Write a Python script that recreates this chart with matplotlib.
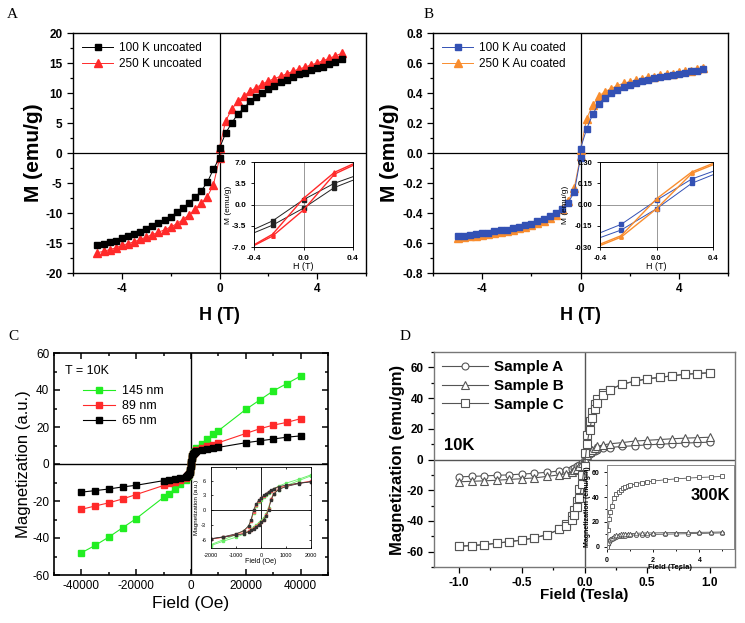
import matplotlib
matplotlib.use("Agg")
import matplotlib.pyplot as plt
from matplotlib.ticker import MultipleLocator

plt.rcParams['font.family'] = ['Liberation Sans', 'DejaVu Sans']
plt.rcParams['axes.unicode_minus'] = False

# ---------------- Panel A data ----------------
H_A = [-5.0, -4.75, -4.5, -4.25, -4.0, -3.75, -3.5, -3.25, -3.0, -2.75, -2.5, -2.25, -2.0, -1.75,
       -1.5, -1.25, -1.0, -0.75, -0.5, -0.25, 0.0, 0.0, 0.25, 0.5, 0.75, 1.0, 1.25, 1.5, 1.75,
       2.0, 2.25, 2.5, 2.75, 3.0, 3.25, 3.5, 3.75, 4.0, 4.25, 4.5, 4.75, 5.0]
M_A_100K = [-15.3, -15.1, -14.9, -14.6, -14.2, -13.9, -13.5, -13.1, -12.7, -12.2, -11.7, -11.2,
            -10.6, -9.9, -9.2, -8.3, -7.4, -6.3, -4.9, -2.7, -0.8, 0.8, 3.3, 5.0, 6.5, 7.5, 8.6,
            9.3, 10.0, 10.6, 11.2, 11.8, 12.2, 12.7, 13.1, 13.4, 13.8, 14.1, 14.4, 14.8, 15.1, 15.6]
M_A_250K = [-16.6, -16.4, -16.1, -15.8, -15.4, -15.1, -14.8, -14.4, -14.0, -13.6, -13.2, -12.8,
            -12.3, -11.8, -11.1, -10.3, -9.4, -8.4, -7.3, -5.3, -0.9, 0.9, 5.3, 7.3, 8.6, 9.5,
            10.3, 10.9, 11.5, 12.0, 12.4, 12.8, 13.2, 13.6, 14.0, 14.3, 14.7, 15.0, 15.4, 15.8,
            16.2, 16.6]
# inset A (loop branches)
H_Ai_desc = [0.5, 0.25, 0.0, -0.25, -0.5]
H_Ai_asc = [-0.5, -0.25, 0.0, 0.25, 0.5]
M_Ai_100K_desc = [5.3, 3.5, 0.8, -2.7, -5.0]
M_Ai_100K_asc = [-5.5, -3.4, -0.6, 2.8, 4.8]
M_Ai_250K_desc = [7.6, 5.3, 1.0, -4.9, -7.8]
M_Ai_250K_asc = [-7.8, -5.2, -0.9, 5.0, 7.4]

# ---------------- Panel B data ----------------
H_B = H_A
M_B_100K = [-0.555, -0.55, -0.545, -0.54, -0.535, -0.53, -0.52, -0.515, -0.51, -0.50, -0.49,
            -0.48, -0.47, -0.455, -0.44, -0.42, -0.40, -0.37, -0.33, -0.26, -0.03, 0.03, 0.16,
            0.26, 0.33, 0.37, 0.40, 0.42, 0.44, 0.455, 0.47, 0.48, 0.49, 0.50, 0.51, 0.515,
            0.52, 0.53, 0.535, 0.545, 0.55, 0.56]
M_B_250K = [-0.565, -0.56, -0.555, -0.55, -0.545, -0.54, -0.53, -0.525, -0.52, -0.51, -0.50,
            -0.49, -0.48, -0.465, -0.45, -0.43, -0.41, -0.37, -0.32, -0.23, -0.02, 0.02, 0.23,
            0.32, 0.38, 0.41, 0.43, 0.45, 0.465, 0.475, 0.485, 0.495, 0.505, 0.51, 0.52, 0.525,
            0.53, 0.54, 0.545, 0.55, 0.56, 0.57]
M_Bi_100K_desc = [0.27, 0.18, 0.03, -0.14, -0.24]
M_Bi_100K_asc = [-0.27, -0.18, -0.03, 0.15, 0.25]
M_Bi_250K_desc = [0.33, 0.23, 0.04, -0.22, -0.32]
M_Bi_250K_asc = [-0.33, -0.23, -0.03, 0.22, 0.32]

# ---------------- Panel C data ----------------
H_C = [-40000, -35000, -30000, -25000, -20000, -10000, -8000, -6000, -4000, -2000, -1500,
       -1000, -700, -500, -300, -100, 0, 100, 300, 500, 700, 1000, 1500, 2000, 4000, 6000,
       8000, 10000, 20000, 25000, 30000, 35000, 40000]
M_C_145 = [-48.0, -44.0, -39.5, -34.5, -29.5, -18.0, -16.0, -13.5, -11.0, -8.5, -7.2, -6.3,
           -5.5, -4.5, -3.0, -1.0, 0.0, 1.0, 3.0, 4.5, 5.5, 6.3, 7.2, 8.5, 11.0, 13.5, 16.0,
           18.0, 29.5, 34.5, 39.5, 43.5, 47.5]
M_C_89 = [-24.5, -22.7, -21.0, -18.9, -16.5, -11.6, -10.5, -9.5, -8.5, -7.5, -6.6, -6.0,
          -5.3, -4.4, -3.0, -1.0, 0.0, 1.0, 3.0, 4.4, 5.3, 6.0, 6.6, 7.5, 8.5, 9.5, 10.5,
          11.5, 16.5, 19.0, 21.0, 22.5, 24.5]
M_C_65 = [-15.2, -14.4, -13.5, -12.4, -11.5, -9.0, -8.5, -8.0, -7.5, -6.8, -6.3, -5.8,
          -5.2, -4.3, -3.0, -1.0, 0.0, 1.0, 3.0, 4.3, 5.2, 5.8, 6.3, 6.8, 7.5, 8.0, 8.5,
          9.0, 11.5, 12.5, 13.5, 14.5, 15.2]
# inset C
H_Ci = [-2000, -1500, -1000, -700, -500, -400, -300, -200, -100, 0, 100, 200, 300, 400, 500,
        700, 1000, 1500, 2000]
M_Ci_65_up = [-5.8, -5.4, -4.8, -4.2, -3.2, -2.0, 0.0, 1.2, 2.0, 2.5, 3.0, 3.4, 3.8, 4.1, 4.4,
              4.8, 5.1, 5.5, 5.8]
M_Ci_65_dn = [-5.8, -5.5, -5.1, -4.8, -4.4, -4.1, -3.8, -3.4, -3.0, -2.5, -2.0, -1.2, 0.0, 2.0,
              3.2, 4.2, 4.8, 5.4, 5.8]
M_Ci_89_up = [-5.9, -5.5, -4.9, -4.3, -3.4, -2.2, -0.3, 1.0, 1.9, 2.4, 2.9, 3.3, 3.7, 4.0, 4.3,
              4.7, 5.0, 5.5, 5.9]
M_Ci_89_dn = [-5.9, -5.5, -5.0, -4.7, -4.3, -4.0, -3.7, -3.3, -2.9, -2.4, -1.9, -1.0, 0.3, 2.2,
              3.4, 4.3, 4.9, 5.5, 5.9]
M_Ci_145_up = [-7.0, -6.0, -5.0, -4.2, -3.3, -2.2, -0.5, 0.8, 1.6, 2.1, 2.6, 3.1, 3.5, 3.9, 4.3,
               4.9, 5.5, 6.3, 7.2]
M_Ci_145_dn = [-7.2, -6.3, -5.5, -4.9, -4.3, -3.9, -3.5, -3.1, -2.6, -2.1, -1.6, -0.8, 0.5, 2.2,
               3.3, 4.2, 5.0, 6.0, 7.0]

# ---------------- Panel D data ----------------
H_D = [-1.0, -0.9, -0.8, -0.7, -0.6, -0.5, -0.4, -0.3, -0.2, -0.15, -0.1, -0.08, -0.06, -0.04,
       -0.02, 0.0, 0.02, 0.04, 0.06, 0.08, 0.1, 0.15, 0.2, 0.3, 0.4, 0.5, 0.6, 0.7, 0.8, 0.9, 1.0]
M_D_C_desc = [-56.5, -56.0, -55.5, -54.5, -53.5, -52.5, -51.0, -49.0, -45.5, -42.0, -37.0, -33.0,
              -27.0, -19.0, -10.0, 4.0, 16.0, 25.0, 31.0, 36.0, 39.5, 43.0, 45.5, 49.0, 51.0,
              52.5, 53.5, 54.5, 55.5, 56.0, 56.5]
M_D_C_asc = [-56.5, -56.0, -55.5, -54.5, -53.5, -52.5, -51.0, -49.0, -45.5, -43.0, -39.5, -36.0,
             -31.0, -25.0, -16.0, -4.0, 10.0, 19.0, 27.0, 33.0, 37.0, 42.0, 45.5, 49.0, 51.0,
             52.5, 53.5, 54.5, 55.5, 56.0, 56.5]
M_D_B = [-14.5, -14.2, -13.9, -13.5, -13.0, -12.5, -12.0, -11.0, -10.0, -9.3, -8.0, -7.0, -6.0,
         -4.5, -2.5, 0.5, 3.0, 5.0, 6.5, 7.5, 8.5, 9.5, 10.2, 11.0, 12.0, 12.5, 13.0, 13.5,
         13.9, 14.2, 14.5]
M_D_A = [-11.3, -11.0, -10.7, -10.3, -10.0, -9.5, -9.0, -8.3, -7.5, -7.0, -6.0, -5.3, -4.5,
         -3.3, -2.0, 0.3, 2.3, 3.8, 5.0, 5.8, 6.5, 7.2, 7.8, 8.5, 9.0, 9.5, 10.0, 10.3, 10.7,
         11.0, 11.3]
# inset D (300 K)
H_Di = [0.0, 0.05, 0.1, 0.15, 0.2, 0.3, 0.4, 0.5, 0.6, 0.7, 0.8, 0.9, 1.0, 1.25, 1.5, 1.75,
        2.0, 2.5, 3.0, 3.5, 4.0, 4.5, 5.0]
M_Di_C = [0, 13, 22, 28, 33, 39, 42.5, 44.5, 46, 47, 48, 48.8, 49.5, 50.8, 51.7, 52.4, 53,
          54, 54.8, 55.4, 55.9, 56.3, 56.8]
M_Di_B = [0, 3, 5, 6.5, 7.3, 8.5, 9, 9.5, 9.8, 10, 10.2, 10.3, 10.4, 10.7, 10.9, 11, 11,
          11.2, 11.3, 11.4, 11.5, 11.6, 11.8]
M_Di_A = [0, 2.5, 4, 5.2, 6, 7.2, 7.8, 8.2, 8.5, 8.7, 8.9, 9, 9.1, 9.4, 9.6, 9.7, 9.8, 10,
          10.2, 10.4, 10.6, 10.8, 11]

W, Hh = 745, 623
fig = plt.figure(figsize=(W / 100, Hh / 100), dpi=100)


def rect(l, t, r, b):
    return [l / W, 1 - b / Hh, (r - l) / W, (b - t) / Hh]


def style(ax, size, bold, direction='out', length=4, top=False, right=False, lw=1.0):
    ax.tick_params(which='both', direction=direction, labelsize=size, width=lw * 0.9,
                   top=top, right=right)
    ax.tick_params(which='major', length=length)
    ax.tick_params(which='minor', length=length * 0.55)
    for s in ax.spines.values():
        s.set_linewidth(lw)
    if bold:
        for t in ax.get_xticklabels() + ax.get_yticklabels():
            t.set_fontweight('bold')


RED = '#ff2a2a'
BLUE = '#3351b4'
ORANGE = '#f98d2e'
GREEN = '#22ee22'
GRAY = '#555555'

# ================= Panel A =================
axA = fig.add_axes(rect(73, 33, 366, 273))
axA.axhline(0, color='k', lw=0.9, zorder=1)
axA.axvline(0, color='k', lw=0.9, zorder=1)
axA.plot(H_A, M_A_100K, '-s', color='k', ms=5, lw=0.7, label='100 K uncoated', zorder=3)
axA.plot(H_A, M_A_250K, '-^', color=RED, ms=5.5, lw=0.7, label='250 K uncoated', zorder=2)
axA.set_xlim(-6, 6)
axA.set_ylim(-20, 20)
axA.xaxis.set_major_locator(MultipleLocator(4))
axA.xaxis.set_minor_locator(MultipleLocator(2))
axA.yaxis.set_major_locator(MultipleLocator(5))
axA.yaxis.set_minor_locator(MultipleLocator(2.5))
style(axA, 8.5, True)
axA.set_xlabel('H (T)', fontsize=13, fontweight='bold', labelpad=8)
axA.set_ylabel('M (emu/g)', fontsize=15, fontweight='bold', labelpad=2)
axA.legend(loc='upper left', frameon=False, fontsize=8.5, handlelength=2.6,
           borderaxespad=0.4, handletextpad=0.5, labelspacing=0.3)

iA = fig.add_axes(rect(254, 162, 353, 247))
iA.axhline(0, color='#888888', lw=0.6)
iA.axvline(0, color='#888888', lw=0.6)
iA.plot(H_Ai_desc, M_Ai_100K_desc, '-s', color='#222222', ms=2.5, lw=0.7)
iA.plot(H_Ai_asc, M_Ai_100K_asc, '-s', color='#222222', ms=2.5, lw=0.7)
iA.plot(H_Ai_desc, M_Ai_250K_desc, '-^', color=RED, ms=2.5, lw=1.0)
iA.plot(H_Ai_asc, M_Ai_250K_asc, '-^', color=RED, ms=2.5, lw=1.0)
iA.set_xlim(-0.4, 0.4)
iA.set_ylim(-7, 7)
iA.set_xticks([-0.4, 0.0, 0.4])
iA.set_yticks([-7, -3.5, 0, 3.5, 7])
iA.set_xticklabels(['-0.4', '0.0', '0.4'])
iA.set_yticklabels(['-7.0', '-3.5', '0.0', '3.5', '7.0'])
style(iA, 6, True, length=2, lw=0.7)
iA.set_xlabel('H (T)', fontsize=6.5, labelpad=0)
iA.set_ylabel('M (emu/g)', fontsize=6, labelpad=0)
iA.yaxis.set_label_coords(-0.22, 0.5)

# ================= Panel B =================
axB = fig.add_axes(rect(433, 33, 728, 273))
axB.axhline(0, color='k', lw=0.9, zorder=1)
axB.axvline(0, color='k', lw=0.9, zorder=1)
axB.plot(H_B, M_B_100K, '-s', color=BLUE, ms=5, lw=0.7, label='100 K Au coated', zorder=3)
axB.plot(H_B, M_B_250K, '-^', color=ORANGE, ms=5.5, lw=0.7, label='250 K Au coated', zorder=2)
axB.set_xlim(-6, 6)
axB.set_ylim(-0.8, 0.8)
axB.xaxis.set_major_locator(MultipleLocator(4))
axB.xaxis.set_minor_locator(MultipleLocator(2))
axB.yaxis.set_minor_locator(MultipleLocator(0.1))
axB.set_yticks([-0.8, -0.6, -0.4, -0.2, 0.0, 0.2, 0.4, 0.6, 0.8])
axB.set_yticklabels(['-0.8', '-0.6', '-0.4', '-0.2', '0.0', '0.2', '0.4', '0.6', '0.8'])
style(axB, 8.5, True)
axB.set_xlabel('H (T)', fontsize=13, fontweight='bold', labelpad=8)
axB.set_ylabel('M (emu/g)', fontsize=15, fontweight='bold', labelpad=2)
axB.legend(loc='upper left', frameon=False, fontsize=8.5, handlelength=2.6,
           borderaxespad=0.4, handletextpad=0.5, labelspacing=0.3)

iB = fig.add_axes(rect(600, 162, 713, 247))
iB.axhline(0, color='#888888', lw=0.6)
iB.axvline(0, color='#888888', lw=0.6)
iB.plot(H_Ai_desc, M_Bi_100K_desc, '-s', color=BLUE, ms=2.5, lw=0.7)
iB.plot(H_Ai_asc, M_Bi_100K_asc, '-s', color=BLUE, ms=2.5, lw=0.7)
iB.plot(H_Ai_desc, M_Bi_250K_desc, '-^', color=ORANGE, ms=2.5, lw=1.0)
iB.plot(H_Ai_asc, M_Bi_250K_asc, '-^', color=ORANGE, ms=2.5, lw=1.0)
iB.set_xlim(-0.4, 0.4)
iB.set_ylim(-0.3, 0.3)
iB.set_xticks([-0.4, 0.0, 0.4])
iB.set_yticks([-0.3, -0.15, 0, 0.15, 0.3])
iB.set_xticklabels(['-0.4', '0.0', '0.4'])
iB.set_yticklabels(['-0.30', '-0.15', '0.00', '0.15', '0.30'])
style(iB, 5.5, True, length=2, lw=0.7)
iB.set_xlabel('H (T)', fontsize=6.5, labelpad=0)
iB.set_ylabel('M (emu/g)', fontsize=6, labelpad=0)
iB.yaxis.set_label_coords(-0.27, 0.5)

# ================= Panel C =================
axC = fig.add_axes(rect(54, 353, 328, 575))
axC.axhline(0, color='k', lw=1.0, zorder=1)
axC.axvline(0, color='k', lw=1.0, zorder=1)
axC.plot(H_C, M_C_145, '-s', color=GREEN, ms=4.5, lw=0.8, label='145 nm', zorder=2)
axC.plot(H_C, M_C_89, '-s', color=RED, ms=4.5, lw=0.8, label='89 nm', zorder=3)
axC.plot(H_C, M_C_65, '-s', color='k', ms=4.5, lw=0.8, label='65 nm', zorder=4)
axC.set_xlim(-50000, 50000)
axC.set_ylim(-60, 60)
axC.xaxis.set_major_locator(MultipleLocator(20000))
axC.xaxis.set_minor_locator(MultipleLocator(10000))
axC.yaxis.set_major_locator(MultipleLocator(20))
axC.yaxis.set_minor_locator(MultipleLocator(10))
style(axC, 8.5, False, direction='in', length=4, top=True, right=True, lw=1.2)
axC.set_xlabel('Field (Oe)', fontsize=12.5, labelpad=3)
axC.set_ylabel('Magnetization (a.u.)', fontsize=12, labelpad=1)
axC.text(0.04, 0.905, 'T = 10K', transform=axC.transAxes, fontsize=9)
axC.legend(loc='upper left', bbox_to_anchor=(0.08, 0.89), frameon=False, fontsize=9,
           handlelength=2.5, handletextpad=0.6, labelspacing=0.25, borderaxespad=0.2)

iC = fig.add_axes(rect(211, 467, 311, 548))
iC.axhline(0, color='k', lw=0.6)
iC.axvline(0, color='k', lw=0.6)
iC.plot(H_Ci, M_Ci_145_up, '-s', color='#66ee66', ms=1.6, lw=0.6)
iC.plot(H_Ci, M_Ci_145_dn, '-s', color='#66ee66', ms=1.6, lw=0.6)
iC.plot(H_Ci, M_Ci_89_up, '-s', color='#ff6060', ms=1.6, lw=0.6)
iC.plot(H_Ci, M_Ci_89_dn, '-s', color='#ff6060', ms=1.6, lw=0.6)
iC.plot(H_Ci, M_Ci_65_up, '-s', color='#333333', ms=1.6, lw=0.5)
iC.plot(H_Ci, M_Ci_65_dn, '-s', color='#333333', ms=1.6, lw=0.5)
iC.set_xlim(-2000, 2000)
iC.set_ylim(-7.7, 8.8)
iC.set_xticks([-2000, -1000, 0, 1000, 2000])
iC.set_yticks([-6, -3, 0, 3, 6])
style(iC, 4, False, direction='in', length=1.5, top=True, right=True, lw=0.6)
iC.set_xlabel('Field (Oe)', fontsize=5, labelpad=0)
iC.set_ylabel('Magnetization (a.u.)', fontsize=4.5, labelpad=0)
iC.yaxis.set_label_coords(-0.12, 0.5)

# ================= Panel D =================
axD = fig.add_axes(rect(434, 352, 735, 567))
axD.axhline(0, color=GRAY, lw=1.0, zorder=1)
axD.axvline(0, color=GRAY, lw=1.0, zorder=1)
mk = dict(mfc='white', mec=GRAY, color=GRAY, lw=0.8, mew=0.8)
axD.plot(H_D, M_D_A, '-o', ms=5, label='Sample A', zorder=3, **mk)
axD.plot(H_D, M_D_B, '-^', ms=5.5, label='Sample B', zorder=3, **mk)
axD.plot(H_D, M_D_C_desc, '-s', ms=5.5, label='Sample C', zorder=4, **mk)
axD.plot(H_D, M_D_C_asc, '-s', ms=5.5, zorder=4, **mk)
axD.set_xlim(-1.2, 1.2)
axD.set_ylim(-70, 70)
axD.xaxis.set_minor_locator(MultipleLocator(0.25))
axD.yaxis.set_major_locator(MultipleLocator(20))
axD.yaxis.set_minor_locator(MultipleLocator(10))
axD.set_xticks([-1.0, -0.5, 0.0, 0.5, 1.0])
axD.set_xticklabels(['-1.0', '-0.5', '0.0', '0.5', '1.0'])
style(axD, 8.5, True, direction='out', length=4, lw=1.0)
for s in axD.spines.values():
    s.set_color('#777777')
axD.set_xlabel('Field (Tesla)', fontsize=11, fontweight='bold', labelpad=-1)
axD.set_ylabel('Magnetization (emu/gm)', fontsize=12, fontweight='bold', labelpad=1)
axD.text(0.033, 0.567, '10K', transform=axD.transAxes, fontsize=12, fontweight='bold',
         va='center')
axD.legend(loc='upper left', frameon=False, handlelength=3.0, handletextpad=0.4,
           labelspacing=0.3, borderaxespad=0.25, borderpad=0.3,
           prop={'weight': 'bold', 'size': 11})

iD = fig.add_axes(rect(607, 465, 734, 549))
iD.plot(H_Di, M_Di_A, '-o', ms=3, **dict(mk, lw=0.6, mew=0.6))
iD.plot(H_Di, M_Di_B, '-^', ms=3.3, **dict(mk, lw=0.6, mew=0.6))
iD.plot(H_Di, M_Di_C, '-s', ms=3.3, **dict(mk, lw=0.6, mew=0.6))
iD.set_xlim(0, 5.5)
iD.set_ylim(-2, 66)
iD.set_xticks([0, 2, 4])
iD.set_yticks([0, 20, 40, 60])
iD.xaxis.set_minor_locator(MultipleLocator(1))
iD.yaxis.set_minor_locator(MultipleLocator(10))
style(iD, 5, True, direction='out', length=2, lw=0.7)
for s in iD.spines.values():
    s.set_color('#888888')
iD.set_xlabel('Field (Tesla)', fontsize=5.5, fontweight='bold', labelpad=0)
iD.set_ylabel('Magnetization (emu/gm)', fontsize=5, fontweight='bold', labelpad=0)
iD.text(0.97, 0.64, '300K', transform=iD.transAxes, fontsize=12, fontweight='bold',
        ha='right', va='center')

# ================= Panel letters =================
for x, y, s in [(12, 15, 'A'), (429, 15, 'B'), (13, 336, 'C'), (405, 336, 'D')]:
    fig.text(x / W, 1 - y / Hh, s, fontsize=11, family='Liberation Serif',
             ha='center', va='center')

fig.savefig('out.png', dpi=100)
